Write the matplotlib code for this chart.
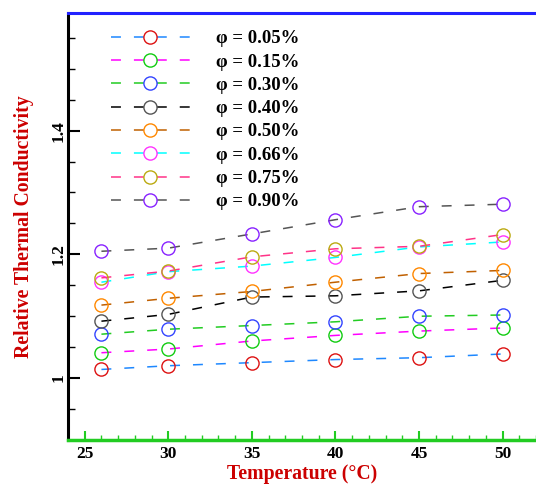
import matplotlib
matplotlib.use('Agg')
import matplotlib.pyplot as plt
from matplotlib.ticker import MultipleLocator, FixedLocator

plt.rcParams['font.family'] = ['Liberation Serif', 'DejaVu Serif']
plt.rcParams['font.weight'] = 'bold'

# temperature (°C) and relative thermal conductivity per volume fraction
temperature = [26, 30, 35, 40, 45, 50]
labels = ['φ = 0.05%', 'φ = 0.15%', 'φ = 0.30%', 'φ = 0.40%',
          'φ = 0.50%', 'φ = 0.66%', 'φ = 0.75%', 'φ = 0.90%']
phi_005 = [1.014, 1.020, 1.025, 1.030, 1.033, 1.039]
phi_015 = [1.041, 1.047, 1.060, 1.069, 1.076, 1.081]
phi_030 = [1.071, 1.079, 1.085, 1.091, 1.100, 1.102]
phi_040 = [1.092, 1.103, 1.131, 1.133, 1.141, 1.158]
phi_050 = [1.118, 1.129, 1.140, 1.155, 1.169, 1.174]
phi_066 = [1.155, 1.172, 1.181, 1.195, 1.212, 1.220]
phi_075 = [1.162, 1.173, 1.196, 1.209, 1.213, 1.232]
phi_090 = [1.205, 1.210, 1.233, 1.256, 1.277, 1.281]
series = [phi_005, phi_015, phi_030, phi_040, phi_050, phi_066, phi_075, phi_090]

line_colors = ['#1e88ff', '#ff00ff', '#22cc22', '#000000',
               '#c06000', '#00ffff', '#ff3388', '#555555']
marker_colors = ['#dd1111', '#11cc11', '#3344ff', '#555555',
                 '#ff8800', '#ff33ff', '#bbaa11', '#8822ff']

fig = plt.figure(figsize=(5.36, 4.84), dpi=100)
ax = fig.add_axes([68 / 536, 44 / 484, 1 - 68 / 536, 427 / 484])

for vals, lab, lc, mc in zip(series, labels, line_colors, marker_colors):
    ln, = ax.plot(temperature, vals, color=lc, lw=1.1, marker='o',
                  markersize=9.5, markerfacecolor='none',
                  markeredgecolor=mc, markeredgewidth=1.0, label=lab)
    ln.set_dashes((6.5, 8.5))

ax.set_xlim(24, 52)
ax.set_ylim(0.9, 1.59)
ax.xaxis.set_major_locator(FixedLocator([25, 30, 35, 40, 45, 50]))
ax.xaxis.set_minor_locator(MultipleLocator(1))
ax.yaxis.set_major_locator(FixedLocator([1.0, 1.2, 1.4]))
ax.yaxis.set_minor_locator(MultipleLocator(0.05))
ax.set_yticklabels(['1', '1.2', '1.4'], rotation=90, va='center')

ax.spines['right'].set_visible(False)
ax.spines['left'].set_color('black')
ax.spines['left'].set_linewidth(2.2)
ax.spines['bottom'].set_color('#22cc22')
ax.spines['bottom'].set_linewidth(2.5)
ax.spines['top'].set_color('#2222ff')
ax.spines['top'].set_linewidth(2.2)

ax.tick_params(axis='x', which='major', direction='in', length=6.5, width=1.5,
               color='#22cc22', labelsize=12.5, pad=4)
ax.tick_params(axis='x', which='minor', direction='in', length=3.6, width=1.0,
               color='#22cc22')
ax.tick_params(axis='y', which='major', direction='in', length=8.6, width=1.5,
               color='black', labelsize=12.5, pad=1)
ax.tick_params(axis='y', which='minor', direction='in', length=5, width=1.0,
               color='black')
for t in ax.get_xticklabels() + ax.get_yticklabels():
    t.set_fontweight('bold')

ax.set_xlabel('Temperature (°C)', color='#cc0000', fontsize=14.2,
              fontweight='bold', labelpad=2)
ax.set_ylabel('Relative Thermal Conductivity', color='#cc0000', fontsize=14.2,
              fontweight='bold', labelpad=12)

ax.legend(loc='upper left', bbox_to_anchor=(0.092, 0.960), frameon=False,
          fontsize=13.5, handlelength=4.2, handletextpad=1.4,
          labelspacing=0.33, borderaxespad=0, borderpad=0)

fig.savefig('out.png', dpi=100)
